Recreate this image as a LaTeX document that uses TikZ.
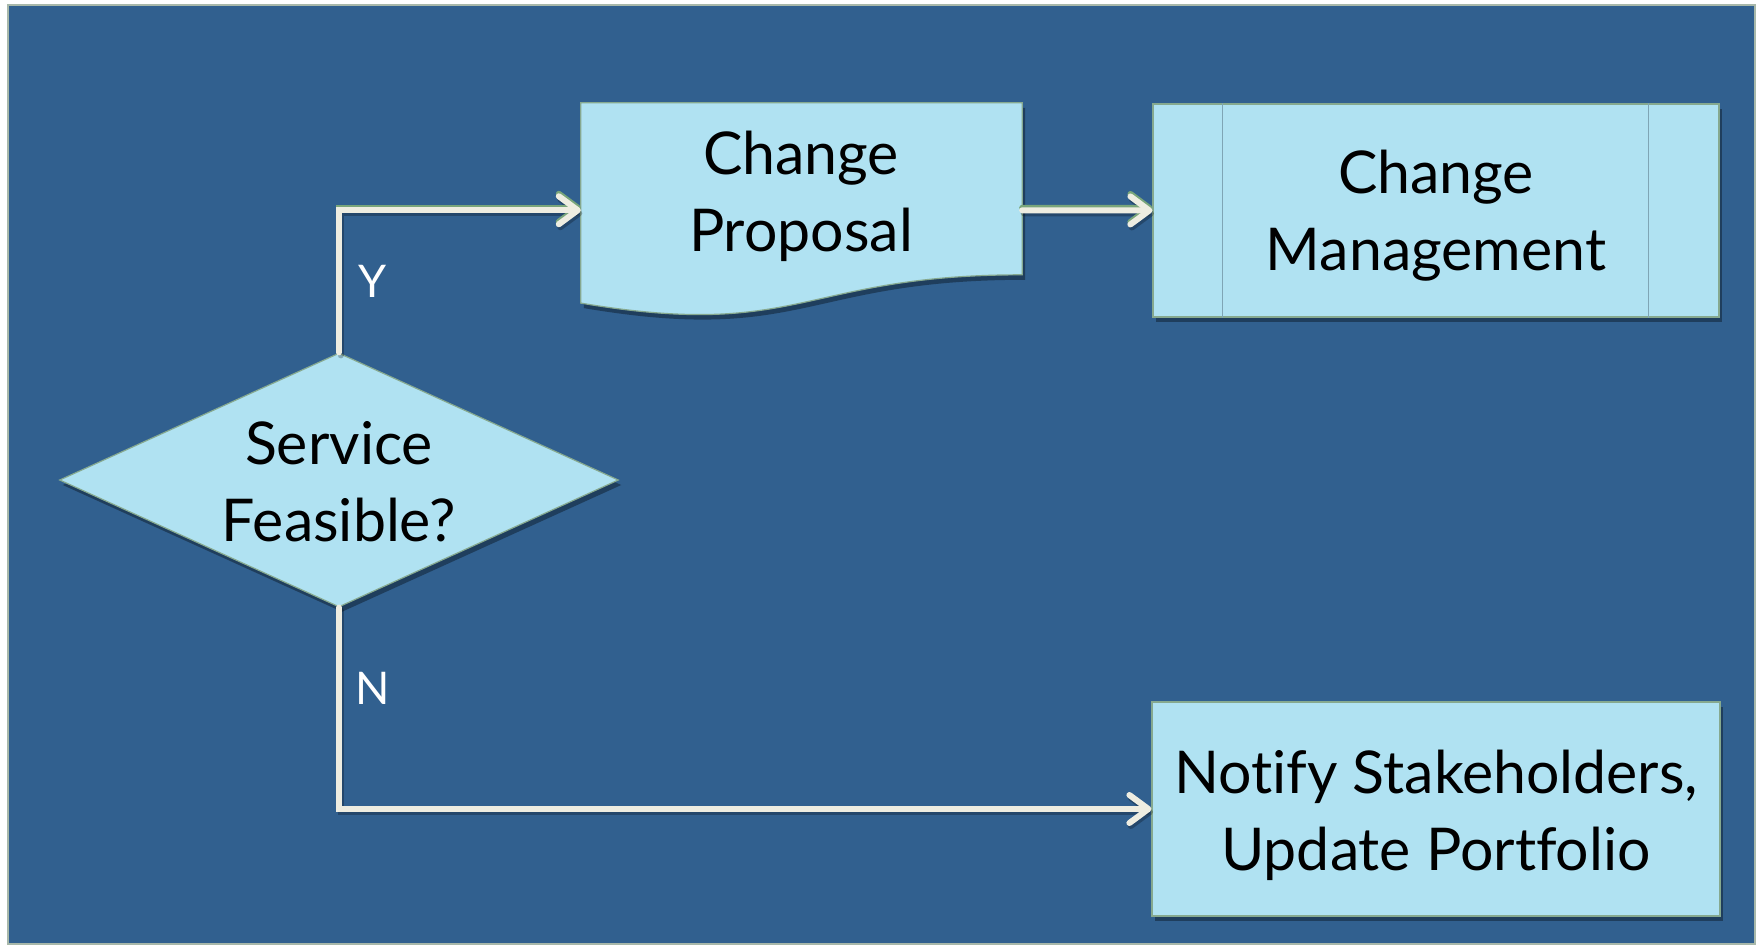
\documentclass[tikz,border=0pt]{standalone}
\usepackage{fontspec}
\setmainfont{Lato}[Ligatures=NoCommon]
\usetikzlibrary{shapes.geometric,arrows.meta,calc,shadows}

\definecolor{panel}{HTML}{31608F}
\definecolor{boxfill}{HTML}{B0E2F2}
\definecolor{boxedge}{HTML}{86A98F}
\definecolor{divider}{HTML}{7FA5B5}
\definecolor{wire}{HTML}{EEEDE1}
\definecolor{wirerimcol}{HTML}{79A57A}
\definecolor{frameedge}{HTML}{A8B8AA}

\tikzset{
  softshadow/.style={drop shadow={shadow xshift=3pt,shadow yshift=-5pt,opacity=0.35,fill=black}},
  flowbox/.style={draw=boxedge,line width=1.2pt,fill=boxfill,softshadow},
  boxtext/.style={font=\fontsize{59}{77}\selectfont,align=center,text=black,inner sep=0pt},
  branchtext/.style={font=\fontsize{45}{50}\selectfont,text=white,inner sep=0pt},
  tip/.style={-{Straight Barb[length=19pt,width=28pt,line cap=round,line join=round]}},
  wirebase/.style={line width=6pt,line cap=round,line join=miter,tip},
  wiremain/.style={wirebase,draw=wire},
  wirerim/.style={wirebase,draw=wirerimcol,transform canvas={yshift=2.5pt}},
  wireshade/.style={wirebase,draw=black,draw opacity=0.25,transform canvas={xshift=1.5pt,yshift=-3pt}},
}

\begin{document}
\begin{tikzpicture}[x=1pt,y=-1pt]
  \useasboundingbox (0,0) rectangle (1758,946);
  \fill[white] (0,0) rectangle (1758,946);
  % panel
  \path[fill=panel,draw=frameedge,line width=1.5pt] (8,5) rectangle (1755,944);

  % decision
  \node[diamond,flowbox,inner sep=0pt,minimum width=559pt,minimum height=254pt] (dec) at (339,480) {};
  \node[boxtext] (dectext) at (339,482) {Service\\Feasible?};

  % document shape: frame node plus wavy outline
  \node[inner sep=0pt,minimum width=441pt,minimum height=214.5pt] (cp) at (801.5,210.25) {};
  \path[flowbox] (cp.north west) -- (cp.north east) -- ($(cp.north east)+(0,172)$)
     .. controls ($(cp.north west)+(220.5,172)$) and ($(cp.north west)+(220.5,237.6)$) .. ($(cp.north west)+(0,200.3)$)
     -- cycle;
  \node[boxtext] (cptext) at (801,196) {Change\\Proposal};

  % predefined process
  \node[flowbox,minimum width=566pt,minimum height=213pt,inner sep=0pt] (cm) at (1436,210.5) {};
  \draw[divider,line width=1.5pt] ([xshift=70pt]cm.north west) -- ([xshift=70pt]cm.south west);
  \draw[divider,line width=1.5pt] ([xshift=-71pt]cm.north east) -- ([xshift=-71pt]cm.south east);
  \node[boxtext] (cmtext) at (1436,216) {Change\\Management};

  % process
  \node[flowbox,minimum width=568pt,minimum height=214pt,inner sep=0pt] (nt) at (1436,809) {};
  \node[boxtext] (nttext) at (1436,815) {Notify Stakeholders,\\Update Portfolio};

  % connectors
  \draw[wireshade] (dec.north) |- (cp.west);
  \draw[wireshade] (cp.east) -- (cm.west);
  \draw[wireshade] (dec.south) |- (nt.west);
  \draw[wirerim] (dec.north) |- (cp.west);
  \draw[wirerim] (cp.east) -- (cm.west);
  \draw[wiremain] (dec.north) |- (cp.west);
  \draw[wiremain] (cp.east) -- (cm.west);
  \draw[wiremain] (dec.south) |- (nt.west);

  % branch labels
  \node[branchtext] (ylab) at (373,281) {Y};
  \node[branchtext] (nlab) at (373,688) {N};
\end{tikzpicture}
\end{document}
